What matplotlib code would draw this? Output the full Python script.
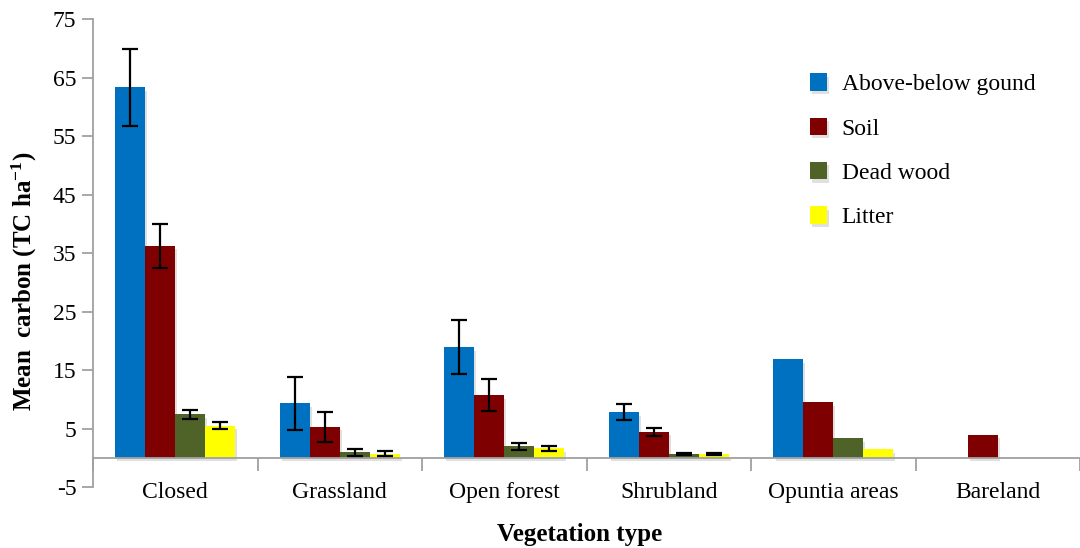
import numpy as np
import matplotlib
matplotlib.use("Agg")
import matplotlib.pyplot as plt
import matplotlib.patheffects as pe

categories = ["Closed", "Grassland", "Open forest", "Shrubland", "Opuntia areas", "Bareland"]
series = ["Above-below gound", "Soil", "Dead wood", "Litter"]

above = [63.3, 9.3, 18.9, 7.8, 16.8, 0.0]
soil = [36.2, 5.3, 10.7, 4.45, 9.5, 3.95]
dead = [7.4, 0.93, 1.96, 0.7, 3.3, 0.0]
litter = [5.5, 0.7, 1.6, 0.58, 1.45, 0.0]

above_err = [6.6, 4.5, 4.6, 1.35, 0, 0]
soil_err = [3.8, 2.6, 2.7, 0.7, 0, 0]
dead_err = [0.8, 0.55, 0.55, 0.15, 0, 0]
litter_err = [0.6, 0.45, 0.45, 0.15, 0, 0]

colors = ["#0070C0", "#7F0000", "#4F6228", "#FFFF00"]

plt.rcParams.update({
    "font.family": "serif",
    "font.serif": ["Liberation Serif", "Times New Roman", "DejaVu Serif"],
    "font.size": 17,
    "axes.unicode_minus": False,
    "mathtext.default": "regular",
})

fig = plt.figure(figsize=(10.8, 5.48), dpi=100)
ax = fig.add_axes([0.0861, 0.1113, 0.914, 0.854])

x = np.arange(len(categories))
w = 0.182
values = [above, soil, dead, litter]
errors = [above_err, soil_err, dead_err, litter_err]
shadow = [pe.SimplePatchShadow(offset=(1.5, -2.5), alpha=0.12, shadow_rgbFace="k"), pe.Normal()]

for i, (vals, errs, col, name) in enumerate(zip(values, errors, colors, series)):
    pos = x + (i - 1.5) * w
    vals = np.array(vals)
    errs = np.array(errs)
    bars = ax.bar(pos, vals, w, color=col, label=name, linewidth=0, zorder=2)
    for b, v in zip(bars, vals):
        if v > 0:
            b.set_path_effects(shadow)
    m = errs > 0
    ax.errorbar(pos[m], vals[m], yerr=errs[m], fmt="none", ecolor="black",
                elinewidth=1.6, capsize=6, capthick=1.6, zorder=3)

ax.set_ylim(-5, 75)
ax.set_yticks(np.arange(-5, 76, 10))
ax.set_xlim(-0.5, len(categories) - 0.5)

ax.spines["top"].set_visible(False)
ax.spines["right"].set_visible(False)
ax.spines["bottom"].set_position(("data", 0))
for s in ("left", "bottom"):
    ax.spines[s].set_color("#A0A0A0")
    ax.spines[s].set_linewidth(1.3)

ax.set_xticks(np.arange(-0.5, len(categories), 1.0))
ax.set_xticklabels([])
ax.tick_params(axis="x", direction="out", length=9, width=1.3, color="#A0A0A0")
ax.tick_params(axis="y", direction="out", length=8, width=1.3, color="#A0A0A0",
               labelsize=17, pad=4)

for xi, c in zip(x, categories):
    ax.text(xi, 0.011, c, transform=ax.get_xaxis_transform(),
            ha="center", va="top", fontsize=17)

ax.set_ylabel("Mean  carbon (TC ha$^{-1}$)", fontweight="bold", fontsize=18)
ax.yaxis.set_label_coords(-0.055, 0.44)
fig.text(0.537, 0.025, "Vegetation type", ha="center", va="center",
         fontweight="bold", fontsize=18)

ax.legend(loc="upper left", bbox_to_anchor=(0.73, 0.905), bbox_transform=fig.transFigure,
          frameon=False, handlelength=0.75, handleheight=0.75, labelspacing=0.95,
          handletextpad=0.6, fontsize=17)

fig.savefig("out.png", dpi=100, facecolor="white")
